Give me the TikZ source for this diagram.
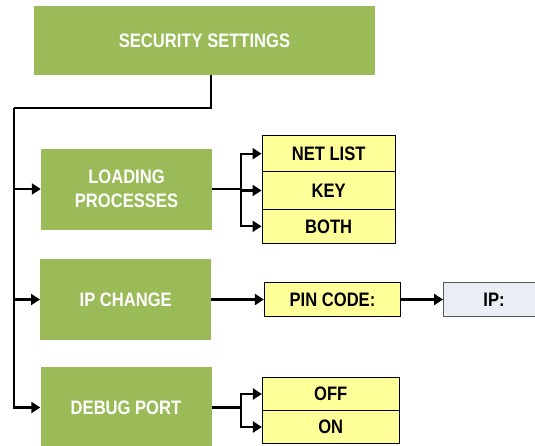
\documentclass[tikz,border=0pt]{standalone}
\usepackage{fontspec}
\setmainfont{Liberation Sans}[FakeStretch=0.85]
\usetikzlibrary{arrows.meta}
\definecolor{gbox}{HTML}{9BBB59}
\definecolor{ybox}{HTML}{FFFF99}
\definecolor{bbox}{HTML}{E9EDF4}
\begin{document}
\begin{tikzpicture}[x=1pt,y=-1pt,
  font=\fontsize{19.5}{24}\selectfont\bfseries,
  greenbox/.style={fill=gbox,text=white,inner sep=0pt,align=center,minimum width=171pt,minimum height=81pt},
  yelbox/.style={fill=ybox,draw=black,line width=0.9pt,inner sep=0pt,align=center},
  bluebox/.style={fill=bbox,draw=black!65,line width=0.9pt,inner sep=0pt,minimum width=101pt,minimum height=34.6pt},
  conn/.style={draw=black,line width=2.2pt},
  arr/.style={conn,-{Triangle[length=9pt,width=11pt]}}]
\clip (0,0) rectangle (535,445);
\fill[white] (0,0) rectangle (535,445);
% main boxes
\node[greenbox,minimum width=341pt,minimum height=69pt] (sec) at (204.5,40.5) {SECURITY SETTINGS};
\node[greenbox] (load) at (126.5,189) {LOADING\\PROCESSES};
\node[greenbox] (ipc) at (125.7,299.5) {IP CHANGE};
\node[greenbox] (dbg) at (126,407.5) {DEBUG PORT};
% option boxes
\node[yelbox,minimum width=133.4pt,minimum height=36pt] (net) at (328.7,153.7) {NET LIST};
\node[yelbox,minimum width=133.4pt,minimum height=37.6pt] (key) at (328.7,190.5) {KEY};
\node[yelbox,minimum width=133.4pt,minimum height=34pt] (both) at (328.7,226.3) {BOTH};
\node[yelbox,minimum width=136.4pt,minimum height=34.6pt] (pin) at (332.5,299.5) {PIN CODE:};
\node[bluebox] (ip) at (494,299.5) {IP:};
\node[yelbox,minimum width=136.7pt,minimum height=33.4pt] (off) at (330.7,394) {OFF};
\node[yelbox,minimum width=136.7pt,minimum height=32.6pt] (on) at (330.7,427) {ON};
% trunk
\coordinate (trunk) at (14,108);
\draw[conn] ([xshift=6.5pt]sec.south) |- (trunk);
\draw[arr] (trunk) |- (dbg.west);
\draw[arr] (trunk |- load.west) -- (load.west);
\draw[arr] (trunk |- ipc.west) -- (ipc.west);
% loading branch
\coordinate (lb) at ([xshift=29pt]load.east);
\draw[conn] (load.east) -- (lb);
\draw[arr] (lb) |- (net.west);
\draw[arr] (lb) |- (key.west);
\draw[arr] (lb) |- (both.west);
% ip change
\draw[arr] (ipc.east) -- (pin.west);
\draw[arr] (pin.east) -- (ip.west);
% debug branch
\coordinate (db) at ([xshift=29pt]dbg.east);
\draw[conn] (dbg.east) -- (db);
\draw[arr] (db) |- (off.west);
\draw[arr] (db) |- (on.west);
\end{tikzpicture}
\end{document}
